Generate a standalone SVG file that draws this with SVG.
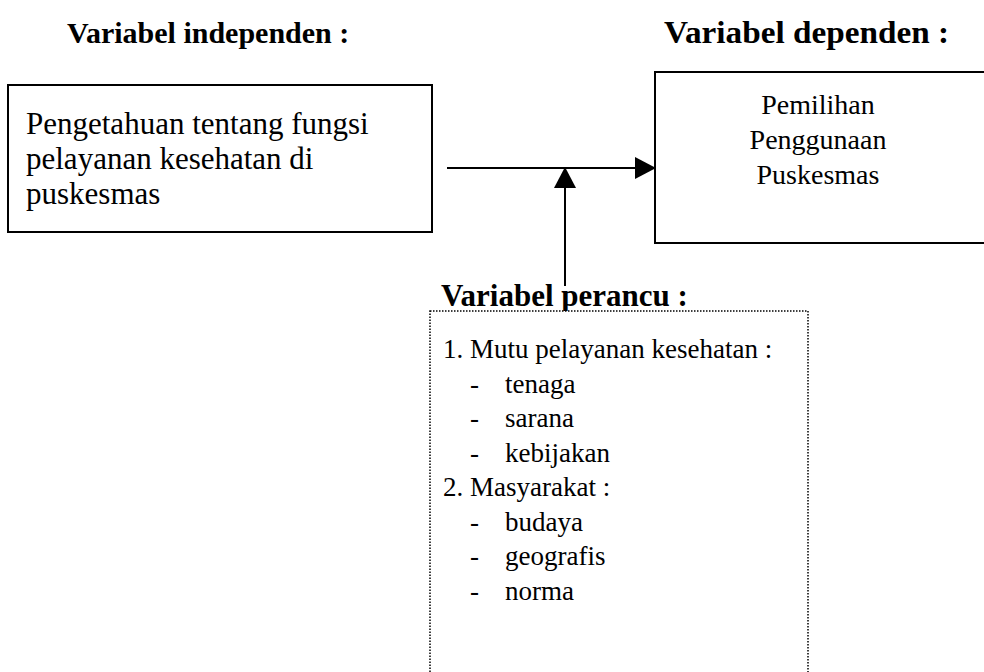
<svg xmlns="http://www.w3.org/2000/svg" width="984" height="672" viewBox="0 0 984 672">
<style>
.h{font-family:"Liberation Serif","Times New Roman",serif;font-weight:bold;font-size:30px;fill:#000}
.t{font-family:"Liberation Serif","Times New Roman",serif;font-size:31px;fill:#000}
.r{font-family:"Liberation Serif","Times New Roman",serif;font-size:28px;fill:#000}
.l{font-family:"Liberation Serif","Times New Roman",serif;font-size:27px;fill:#000}
.box{fill:#fff;stroke:#000;stroke-width:2}
.dot{fill:#fff;stroke:#000;stroke-width:1.5;stroke-dasharray:1.5 1.5}
.ln{stroke:#000;stroke-width:2;fill:none}
</style>
<rect width="984" height="672" fill="#fff"/>
<g id="head-independen"><text class="h" x="67" y="43">Variabel independen :</text></g>
<g id="head-dependen"><text class="h" x="664" y="43" style="font-size:31px" textLength="285" lengthAdjust="spacingAndGlyphs">Variabel dependen :</text></g>
<g id="independen">
<rect class="box" x="8" y="85" width="424" height="147"/>
<text class="t" x="26" y="134">Pengetahuan tentang fungsi</text>
<text class="t" x="26" y="169">pelayanan kesehatan di</text>
<text class="t" x="26" y="204">puskesmas</text>
</g>
<g id="dependen">
<rect class="box" x="655" y="72" width="340" height="171"/>
<text class="r" x="818" y="114" text-anchor="middle">Pemilihan</text>
<text class="r" x="818" y="149" text-anchor="middle">Penggunaan</text>
<text class="r" x="818" y="184" text-anchor="middle">Puskesmas</text>
</g>
<g id="connectors">
<line class="ln" x1="447" y1="168" x2="640" y2="168"/>
<path d="M635,157 L656,168 L635,179 Z" fill="#000"/>
<line class="ln" x1="565" y1="286" x2="565" y2="186"/>
<path d="M554,188 L565,167 L576,188 Z" fill="#000"/>
</g>
<g id="perancu">
<text class="h" x="441" y="306" style="font-size:31px">Variabel perancu :</text>
<rect class="dot" x="430" y="311" width="378" height="380"/>
<text class="l" x="443" y="358">1.</text>
<text class="l" x="470" y="358">Mutu pelayanan kesehatan :</text>
<text class="l" x="470" y="393">-</text><text class="l" x="505" y="393">tenaga</text>
<text class="l" x="470" y="427">-</text><text class="l" x="505" y="427">sarana</text>
<text class="l" x="470" y="462">-</text><text class="l" x="505" y="462">kebijakan</text>
<text class="l" x="443" y="496">2.</text>
<text class="l" x="470" y="496">Masyarakat :</text>
<text class="l" x="470" y="531">-</text><text class="l" x="505" y="531">budaya</text>
<text class="l" x="470" y="565">-</text><text class="l" x="505" y="565">geografis</text>
<text class="l" x="470" y="600">-</text><text class="l" x="505" y="600">norma</text>
</g>
</svg>
